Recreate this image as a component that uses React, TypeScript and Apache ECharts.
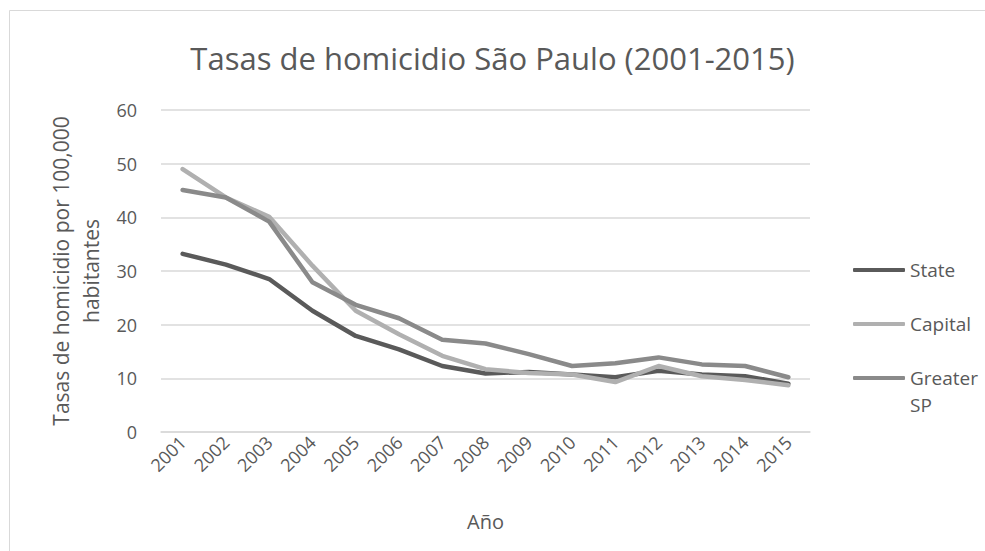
import React, { useEffect, useRef } from "react";
import * as echarts from "echarts";

const years = ["2001","2002","2003","2004","2005","2006","2007","2008","2009","2010","2011","2012","2013","2014","2015"];
const stateRates = [33.2, 31.2, 28.5, 22.6, 17.9, 15.4, 12.3, 10.9, 11.2, 10.7, 10.2, 11.4, 10.7, 10.4, 9.0];
const capitalRates = [49.0, 43.7, 40.1, 31.0, 22.6, 18.2, 14.2, 11.7, 11.0, 10.7, 9.3, 12.3, 10.4, 9.7, 8.7];
const greaterRates = [45.1, 43.7, 39.2, 27.9, 23.7, 21.2, 17.2, 16.5, 14.5, 12.3, 12.8, 13.9, 12.6, 12.3, 10.2];
const seriesNames = ["State", "Capital", "Greater SP"];
const seriesColors = ["#5a5a5a", "#b0b0b0", "#8a8a8a"];

const FONT = "'Open Sans', sans-serif";
const TXT = "#595959";

export default function App() {
  const ref = useRef<HTMLDivElement>(null);
  useEffect(() => {
    document.body.style.margin = "0";
    if (!ref.current) return;
    const chart = echarts.init(ref.current, null, { renderer: "svg" });
    const data = [stateRates, capitalRates, greaterRates];
    const iconCenters = [270, 324, 378];
    chart.setOption({
      animation: false,
      backgroundColor: "#ffffff",
      textStyle: { fontFamily: FONT, color: TXT },
      title: {
        text: "Tasas de homicidio São Paulo (2001-2015)",
        left: "center",
        top: 37,
        textStyle: { fontFamily: FONT, fontSize: 31, fontWeight: "normal", color: TXT },
      },
      graphic: [
        {
          type: "rect",
          shape: { x: 9.5, y: 10.5, width: 1000, height: 600 },
          style: { fill: "none", stroke: "#d9d9d9", lineWidth: 1 },
          silent: true,
        },
      ],
      grid: { left: 161, right: 175, top: 110, bottom: 119, containLabel: false },
      legend: seriesNames.map((n, i) => ({
        data: [n],
        orient: "vertical",
        left: 853,
        top: i === 2 ? iconCenters[i] - 40.5 : iconCenters[i] - 13.5,
        padding: 0,
        icon: "roundRect",
        itemWidth: 52,
        itemHeight: 4,
        selectedMode: false,
        formatter: (name: string) => (name === "Greater SP" ? " \nGreater\nSP" : name),
        textStyle: {
          fontFamily: FONT,
          fontSize: 19,
          color: TXT,
          lineHeight: 27,
        },
      })),
      xAxis: {
        type: "category",
        data: years,
        boundaryGap: true,
        name: "Año",
        nameLocation: "middle",
        nameGap: 79,
        nameTextStyle: { fontFamily: FONT, fontSize: 20, color: TXT },
        axisLine: { show: true, lineStyle: { color: "#d9d9d9", width: 1.5 } },
        axisTick: { show: false },
        axisLabel: { rotate: 45, fontFamily: FONT, fontSize: 18, color: TXT, margin: 7 },
      },
      yAxis: {
        type: "value",
        min: 0,
        max: 60,
        interval: 10,
        name: "Tasas de homicidio por 100,000\nhabitantes",
        nameLocation: "middle",
        nameRotate: 90,
        nameGap: 48,
        nameTextStyle: { fontFamily: FONT, fontSize: 21, color: TXT, lineHeight: 30, align: "center" },
        axisLine: { show: false },
        axisTick: { show: false },
        axisLabel: { fontFamily: FONT, fontSize: 18, color: TXT, margin: 24 },
        splitLine: { lineStyle: { color: "#d9d9d9", width: 1.5 } },
      },
      series: seriesNames.map((n, i) => ({
        name: n,
        type: "line",
        data: data[i],
        showSymbol: false,
        symbol: "none",
        lineStyle: { color: seriesColors[i], width: 4.5, cap: "round", join: "round" },
        itemStyle: { color: seriesColors[i] },
        emphasis: { disabled: true },
      })),
    });
    return () => chart.dispose();
  }, []);
  return <div ref={ref} style={{ width: 985, height: 551 }} />;
}
